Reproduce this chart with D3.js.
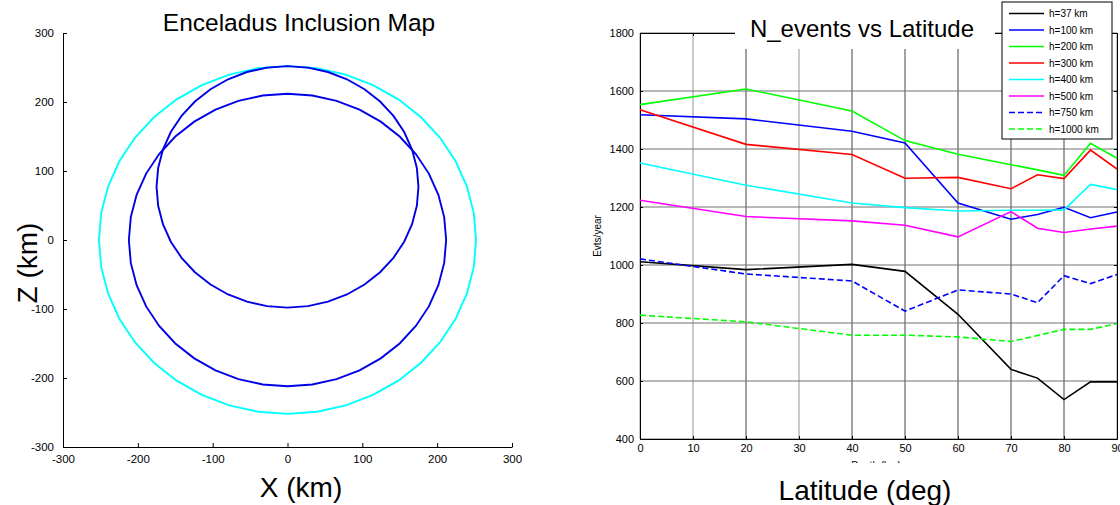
<!DOCTYPE html>
<html lang="en">
<head>
    <meta charset="utf-8">
    <title>Enceladus Inclusion Map / N_events vs Latitude</title>
    <script src="https://cdn.jsdelivr.net/npm/d3@7"></script>
    <style>
        body { margin: 0; background: #fff; font-family: "Liberation Sans", Arial, sans-serif; }
        svg text { font-family: "Liberation Sans", Arial, sans-serif; fill: #000; }
    </style>
</head>
<body>
<div id="chart"></div>
<script>
    // ---- left panel: inclusion map (circles given as centre + radius, km)
    var mapTicks = [-300, -200, -100, 0, 100, 200, 300];
    var circleCX = [0, 0, 0];
    var circleCZ = [0, 0, 77];
    var circleR = [252, 212, 175];

    // ---- right panel: events per year vs latitude
    var latitudes = [0, 20, 40, 50, 60, 70, 75, 80, 85, 90];
    var latTicks = [0, 10, 20, 30, 40, 50, 60, 70, 80, 90];
    var evtTicks = [400, 600, 800, 1000, 1200, 1400, 1600, 1800];
    var seriesNames = ["h=37 km", "h=100 km", "h=200 km", "h=300 km", "h=400 km", "h=500 km", "h=750 km", "h=1000 km"];
    var h37 = [1011, 984, 1002, 978, 830, 640, 610, 536, 597, 597];
    var h100 = [1518, 1504, 1461, 1421, 1214, 1158, 1174, 1199, 1163, 1183];
    var h200 = [1553, 1607, 1531, 1429, 1382, 1346, 1328, 1309, 1420, 1368];
    var h300 = [1535, 1416, 1381, 1299, 1302, 1263, 1311, 1298, 1396, 1331];
    var h400 = [1352, 1275, 1214, 1198, 1186, 1189, 1189, 1190, 1278, 1260];
    var h500 = [1223, 1167, 1152, 1137, 1097, 1184, 1127, 1112, 1124, 1134];
    var h750 = [1021, 969, 945, 841, 914, 900, 870, 963, 936, 967];
    var h1000 = [827, 804, 758, 758, 752, 736, 757, 778, 778, 798];
    var shadedGrid = [20, 40, 50, 60, 70, 80];

    var seriesValues = [h37, h100, h200, h300, h400, h500, h750, h1000];
    var seriesColors = ["#000000", "#0000ff", "#00ff00", "#ff0000", "#00ffff", "#ff00ff", "#0000ff", "#00ff00"];
    var seriesDash = [null, null, null, null, null, null, "6,3", "6,3"];
    var circleColors = ["#00ffff", "#0000e6", "#0000e6"];

    // plain integers with an ascii minus, like the original
    var plain = function(d) { return String(d); };

    var svg = d3.select("#chart").append("svg")
        .attr("width", 1120)
        .attr("height", 505);

    // ================= left panel =================
    var mx = d3.scaleLinear().domain([-300, 300]).range([63, 512]);
    var mz = d3.scaleLinear().domain([-300, 300]).range([447, 33]);

    var left = svg.append("g");

    var circlePath = d3.line()
        .x(function(p) { return mx(p[0]); })
        .y(function(p) { return mz(p[1]); })
        .curve(d3.curveLinearClosed);

    circleR.forEach(function(r, i) {
        var pts = d3.range(40).map(function(k) {
            var a = k / 40 * 2 * Math.PI;
            return [circleCX[i] + r * Math.sin(a), circleCZ[i] + r * Math.cos(a)];
        });
        left.append("path")
            .attr("d", circlePath(pts))
            .attr("fill", "none")
            .attr("stroke", circleColors[i])
            .attr("stroke-width", 1.9);
    });

    var mapXAxis = d3.axisBottom(mx).tickValues(mapTicks).tickFormat(plain)
        .tickSizeInner(-4).tickSizeOuter(0).tickPadding(8);
    var mapYAxis = d3.axisLeft(mz).tickValues(mapTicks).tickFormat(plain)
        .tickSizeInner(-4).tickSizeOuter(0).tickPadding(9);

    left.append("g").attr("transform", "translate(0,447)").call(mapXAxis);
    left.append("g").attr("transform", "translate(63,0)").call(mapYAxis);
    left.selectAll(".tick text").style("font-size", "11.5px");
    left.selectAll(".domain, .tick line").attr("stroke", "#000").attr("stroke-width", 1);

    left.append("text")
        .attr("x", 299).attr("y", 31)
        .attr("text-anchor", "middle")
        .style("font-size", "24.5px")
        .text("Enceladus Inclusion Map");

    left.append("text")
        .attr("x", 301).attr("y", 497)
        .attr("text-anchor", "middle")
        .style("font-size", "28px")
        .text("X (km)");

    left.append("text")
        .attr("transform", "translate(37,263) rotate(-90)")
        .attr("text-anchor", "middle")
        .style("font-size", "28px")
        .text("Z (km)");

    // ================= right panel =================
    var x = d3.scaleLinear().domain([0, 90]).range([640, 1117]);
    var y = d3.scaleLinear().domain([400, 1800]).range([439, 33]);

    var right = svg.append("g");

    // grid
    right.selectAll(".vshade")
        .data(shadedGrid)
        .enter().append("line")
        .attr("x1", function(d) { return x(d); })
        .attr("x2", function(d) { return x(d); })
        .attr("y1", 33).attr("y2", 439)
        .attr("stroke", "#c4c4c4")
        .attr("stroke-width", 2);

    right.selectAll(".vgrid")
        .data(latTicks)
        .enter().append("line")
        .attr("x1", function(d) { return x(d); })
        .attr("x2", function(d) { return x(d); })
        .attr("y1", 33).attr("y2", 439)
        .attr("stroke", "#666")
        .attr("stroke-width", 0.7);

    right.selectAll(".hgrid")
        .data(evtTicks)
        .enter().append("line")
        .attr("x1", 640).attr("x2", 1117)
        .attr("y1", function(d) { return y(d); })
        .attr("y2", function(d) { return y(d); })
        .attr("stroke", "#707070")
        .attr("stroke-width", 1);

    // axes (ticks inward on all four sides)
    var xb = d3.axisBottom(x).tickValues(latTicks).tickFormat(plain).tickSizeInner(-3).tickSizeOuter(0).tickPadding(5);
    var xt = d3.axisTop(x).tickValues(latTicks).tickSizeInner(-3).tickSizeOuter(0).tickFormat("");
    var yl = d3.axisLeft(y).tickValues(evtTicks).tickFormat(plain).tickSizeInner(-3).tickSizeOuter(0).tickPadding(6);
    var yr = d3.axisRight(y).tickValues(evtTicks).tickSizeInner(-3).tickSizeOuter(0).tickFormat("");

    right.append("g").attr("class", "rax").attr("transform", "translate(0,33)").call(xt);
    right.append("g").attr("class", "rax").attr("transform", "translate(1117,0)").call(yr);
    right.append("g").attr("class", "rax").attr("transform", "translate(0,439)").call(xb);
    right.append("g").attr("class", "rax").attr("transform", "translate(640,0)").call(yl);
    right.selectAll(".rax .domain, .rax .tick line").attr("stroke", "#000").attr("stroke-width", 1);
    right.selectAll(".rax .tick text").style("font-size", "11px");

    // hidden axis label peeking under the plot
    right.append("clipPath").attr("id", "depthClip")
        .append("rect").attr("x", 820).attr("y", 450).attr("width", 120).attr("height", 13);
    right.append("text")
        .attr("x", 876).attr("y", 469)
        .attr("text-anchor", "middle")
        .attr("clip-path", "url(#depthClip)")
        .style("font-size", "10px")
        .text("Depth (km)");

    // title with its white box over the top border
    right.append("rect")
        .attr("x", 735).attr("y", 10)
        .attr("width", 260).attr("height", 39)
        .attr("fill", "#fff");
    right.append("text")
        .attr("x", 862).attr("y", 37)
        .attr("text-anchor", "middle")
        .style("font-size", "24px")
        .text("N_events vs Latitude");

    right.append("text")
        .attr("x", 865).attr("y", 500)
        .attr("text-anchor", "middle")
        .style("font-size", "28px")
        .text("Latitude (deg)");

    right.append("text")
        .attr("transform", "translate(601,236) rotate(-90)")
        .attr("text-anchor", "middle")
        .style("font-size", "10px")
        .text("Evts/year");

    // series
    var line = d3.line()
        .x(function(d, i) { return x(latitudes[i]); })
        .y(function(d) { return y(d); });

    right.selectAll(".series")
        .data(seriesValues)
        .enter().append("path")
        .attr("class", "series")
        .attr("d", function(d) { return line(d); })
        .attr("fill", "none")
        .attr("stroke", function(d, i) { return seriesColors[i]; })
        .attr("stroke-dasharray", function(d, i) { return seriesDash[i]; })
        .attr("stroke-width", 1.6)
        .attr("stroke-linejoin", "miter");

    // legend
    var legend = right.append("g").attr("transform", "translate(1002,2)");
    legend.append("rect")
        .attr("width", 110).attr("height", 137)
        .attr("fill", "#fff")
        .attr("stroke", "#000")
        .attr("stroke-width", 1);

    var item = legend.selectAll(".item")
        .data(seriesNames)
        .enter().append("g")
        .attr("class", "item")
        .attr("transform", function(d, i) { return "translate(0," + (11.5 + i * 16.5) + ")"; });

    item.append("line")
        .attr("x1", 7).attr("x2", 42)
        .attr("stroke", function(d, i) { return seriesColors[i]; })
        .attr("stroke-dasharray", function(d, i) { return seriesDash[i]; })
        .attr("stroke-width", 1.6);

    item.append("text")
        .attr("x", 47).attr("y", 0)
        .attr("dy", "0.35em")
        .style("font-size", "10px")
        .text(function(d) { return d; });
</script>
</body>
</html>
